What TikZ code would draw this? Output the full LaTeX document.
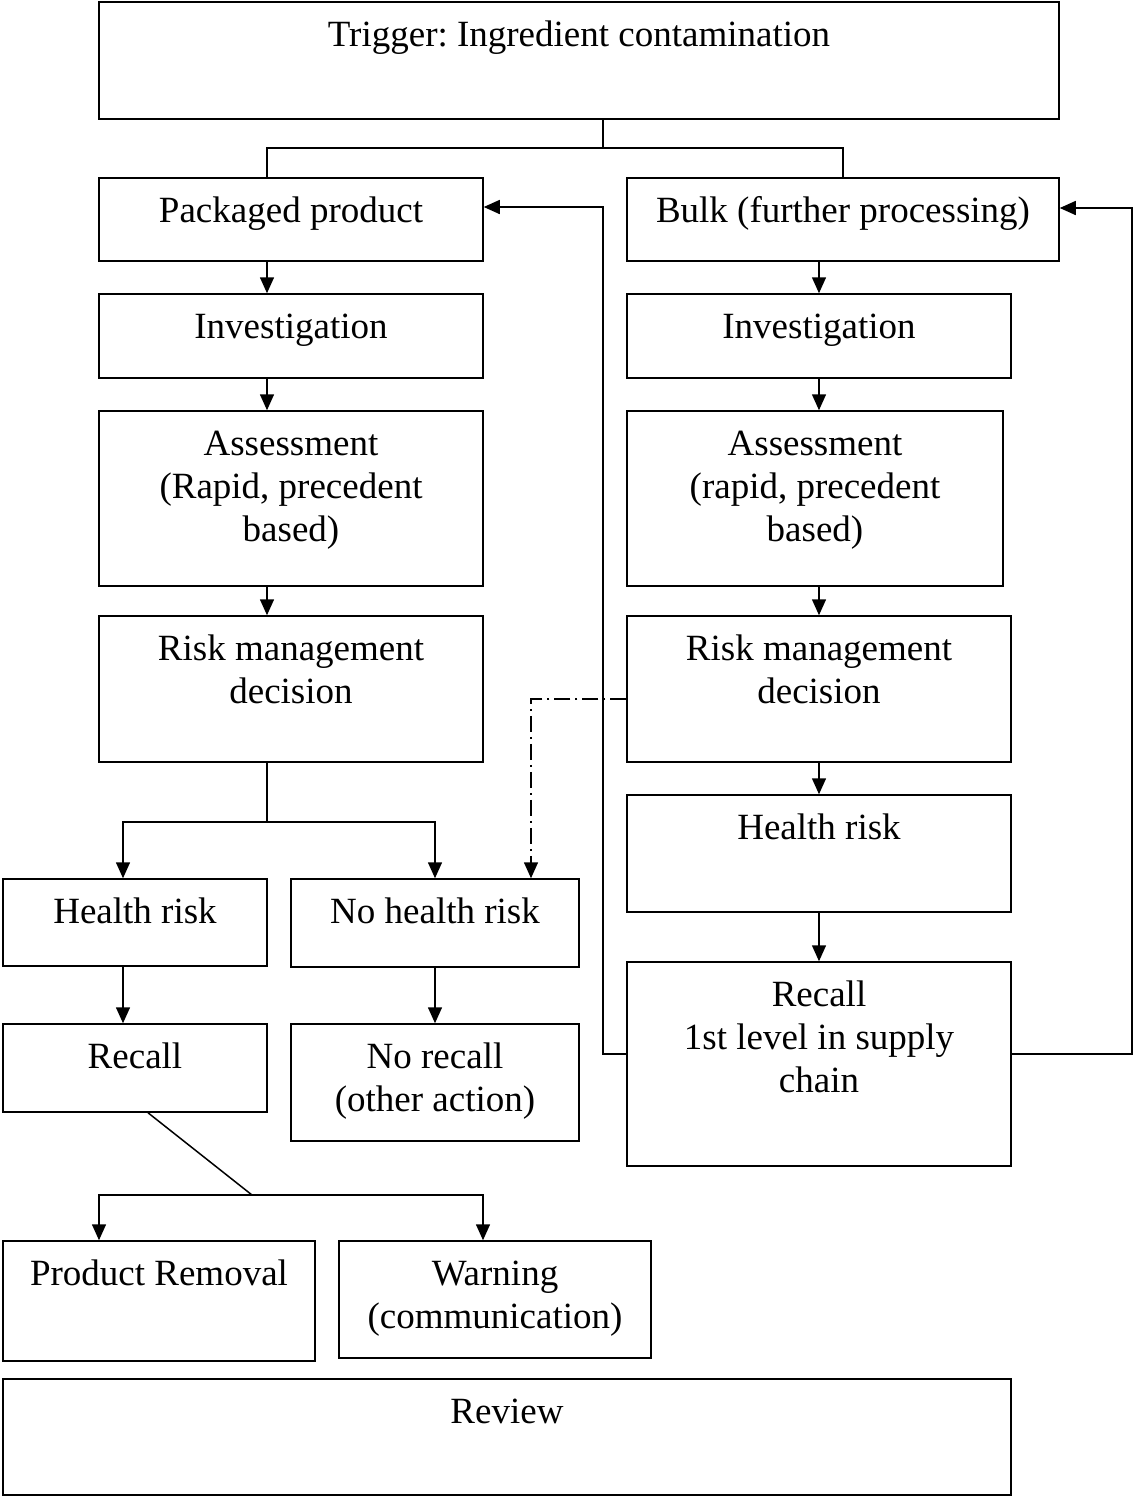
\documentclass[tikz,border=0pt]{standalone}
\usepackage{fontspec}
\setmainfont{Liberation Serif}
\usetikzlibrary{arrows.meta}
\frenchspacing
\tikzset{
  box/.style={draw, line width=1.5pt, rectangle, inner sep=0pt},
  lbl/.style={anchor=north, align=center, inner sep=0pt, font=\fontsize{37}{43}\selectfont},
  conn/.style={line width=1.5pt},
  arr/.style={conn, -{Triangle[length=16pt,width=14pt]}},
  dd/.style={dash pattern=on 16pt off 5pt on 2pt off 5pt}
}
\newcommand\bx[6]{%
  \node[box, minimum width={#4pt-#2pt}, minimum height={#5pt-#3pt}] (#1) at ({(#2+#4)/2},{(#3+#5)/2}) {};
  \node[lbl] (#1-t) at ({(#2+#4)/2},{#3+14}) {\strut #6};
}
\begin{document}
\begin{tikzpicture}[x=1pt, y=-1pt]
\useasboundingbox (0,0) rectangle (1134,1497);
\bx{trig}{99}{2}{1059}{119}{Trigger: Ingredient contamination}
\bx{pack}{99}{178}{483}{261}{Packaged product}
\bx{bulk}{627}{178}{1059}{261}{Bulk (further processing)}
\bx{invL}{99}{294}{483}{378}{Investigation}
\bx{invR}{627}{294}{1011}{378}{Investigation}
\bx{assL}{99}{411}{483}{586}{Assessment\\(Rapid, precedent\\based)}
\bx{assR}{627}{411}{1003}{586}{Assessment\\(rapid, precedent\\based)}
\bx{riskL}{99}{616}{483}{762}{Risk management\\decision}
\bx{riskR}{627}{616}{1011}{762}{Risk management\\decision}
\bx{hrL}{3}{879}{267}{966}{Health risk}
\bx{nhr}{291}{879}{579}{967}{No health risk}
\bx{hrR}{627}{795}{1011}{912}{Health risk}
\bx{recR}{627}{962}{1011}{1166}{Recall\\1st level in supply\\chain}
\bx{recL}{3}{1024}{267}{1112}{Recall}
\bx{norec}{291}{1024}{579}{1141}{No recall\\(other action)}
\bx{rem}{3}{1241}{315}{1361}{Product Removal}
\bx{warn}{339}{1241}{651}{1358}{Warning\\(communication)}
\bx{review}{3}{1379}{1011}{1495}{Review}

\coordinate (xa) at (267,0);
\coordinate (xr) at (819,0);
\coordinate (xt) at (603,0);
\coordinate (xb) at (843,0);
\coordinate (xh) at (123,0);
\coordinate (xn) at (435,0);
\coordinate (xd) at (531,0);
\coordinate (xe) at (1132,0);
\coordinate (xl) at (148,0);
\coordinate (xp) at (99,0);
\coordinate (xw) at (483,0);
\coordinate (j1) at (603,148);
\coordinate (j2) at (267,822);
\coordinate (j3) at (252,1195);
\coordinate (yd) at (0,699);
\coordinate (yr) at (0,1054);
\coordinate (yp) at (0,207);
\coordinate (yb) at (0,208);

% top split
\draw[conn] (trig.south -| xt) -- (j1);
\draw[conn] (j1) -| (pack.north -| xa);
\draw[conn] (j1) -| (bulk.north -| xb);

% left column
\draw[arr] (pack.south -| xa) -- (invL.north -| xa);
\draw[arr] (invL.south -| xa) -- (assL.north -| xa);
\draw[arr] (assL.south -| xa) -- (riskL.north -| xa);
\draw[conn] (riskL.south -| xa) -- (j2);
\draw[arr] (j2) -| (hrL.north -| xh);
\draw[arr] (j2) -| (nhr.north -| xn);
\draw[arr] (hrL.south -| xh) -- (recL.north -| xh);
\draw[arr] (nhr.south -| xn) -- (norec.north -| xn);
\draw[conn] (recL.south -| xl) -- (j3);
\draw[arr] (j3) -| (rem.north -| xp);
\draw[arr] (j3) -| (warn.north -| xw);

% right column
\draw[arr] (bulk.south -| xr) -- (invR.north -| xr);
\draw[arr] (invR.south -| xr) -- (assR.north -| xr);
\draw[arr] (assR.south -| xr) -- (riskR.north -| xr);
\draw[arr] (riskR.south -| xr) -- (hrR.north -| xr);
\draw[arr] (hrR.south -| xr) -- (recR.north -| xr);

% dash-dot link
\draw[arr, dd] (riskR.west |- yd) -| (nhr.north -| xd);

% feedback loops
\draw[arr] (recR.west |- yr) -- (xt |- yr) -- (xt |- yp) -- (pack.east |- yp);
\draw[arr] (recR.east |- yr) -- (xe |- yr) -- (xe |- yb) -- (bulk.east |- yb);
\end{tikzpicture}
\end{document}
